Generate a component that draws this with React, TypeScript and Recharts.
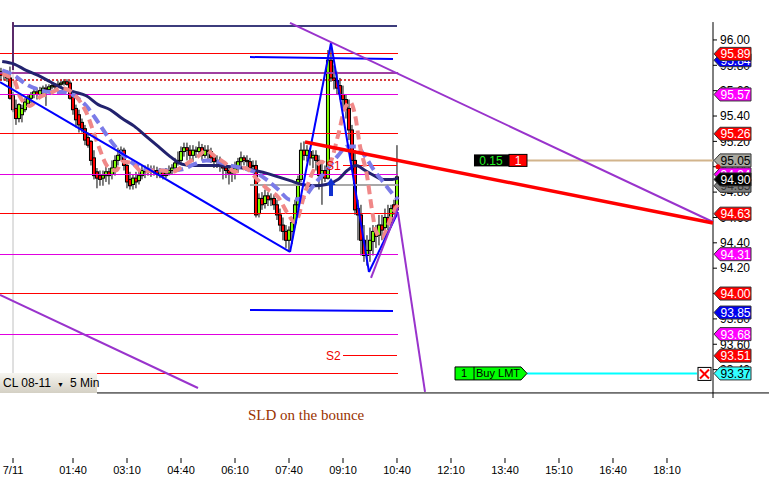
import React from 'react';
import {
    ComposedChart,
    XAxis,
    YAxis,
    Bar,
    Line,
    ReferenceLine,
    ReferenceDot
} from 'recharts';

const W = 769;
const H = 486;
// visible window: minutes after 7/11 00:00 and price range
const T_MIN = -21.67;
const T_MAX = 1166.67;
const P_MIN = 92.703;
const P_MAX = 96.315;
const LEVEL_END = 642;
const FONT = '"Liberation Sans", Arial, sans-serif';

// 5 min bars, first bar at 23:40 of the previous day
const opens = [
    95.75, 95.72, 95.75, 95.70, 95.56, 95.46, 95.38, 95.41, 95.45, 95.50,
    95.54, 95.57, 95.59, 95.57, 95.60, 95.62, 95.61, 95.63, 95.64, 95.64,
    95.65, 95.66, 95.67, 95.66, 95.55, 95.46, 95.41, 95.35, 95.30, 95.23,
    95.20, 95.07, 94.96, 94.93, 94.91, 94.93, 94.96, 94.94, 94.99, 95.05,
    95.09, 95.13, 95.01, 94.90, 94.86, 94.91, 94.89, 94.93, 94.97, 94.96,
    94.98, 94.96, 94.97, 94.94, 94.96, 94.93, 94.95, 94.97, 94.99, 95.03,
    95.05, 95.12, 95.15, 95.13, 95.09, 95.13, 95.12, 95.15, 95.09, 95.13,
    95.12, 95.07, 95.04, 95.05, 95.01, 94.99, 94.97, 94.95, 94.97, 94.99,
    95.04, 95.07, 95.05, 95.04, 95.01, 95.01, 94.63, 94.75, 94.71, 94.77,
    94.74, 94.75, 94.70, 94.62, 94.54, 94.49, 94.42, 94.49, 94.56, 94.70,
    94.90, 95.13, 95.09, 95.12, 95.07, 95.09, 95.05, 94.93, 94.97, 94.91,
    95.84, 95.70, 95.68, 95.64, 95.57, 95.53, 95.46, 95.29, 95.05, 94.67,
    94.62, 94.42, 94.30, 94.34, 94.41, 94.49, 94.46, 94.54, 94.52, 94.60,
    94.56, 94.70, 94.66
];
const highs = [
    95.78, 95.76, 95.76, 95.79, 95.59, 95.53, 95.50, 95.49, 95.54, 95.57,
    95.59, 95.62, 95.62, 95.63, 95.64, 95.65, 95.65, 95.66, 95.66, 95.68,
    95.68, 95.69, 95.69, 95.68, 95.57, 95.49, 95.45, 95.38, 95.33, 95.27,
    95.21, 95.13, 94.99, 94.97, 94.97, 95.01, 94.99, 95.05, 95.09, 95.15,
    95.16, 95.15, 95.05, 94.96, 94.94, 94.96, 94.97, 95.01, 95.01, 95.02,
    95.01, 95.01, 95.00, 94.99, 94.98, 94.99, 95.01, 95.02, 95.07, 95.12,
    95.16, 95.19, 95.19, 95.17, 95.17, 95.16, 95.20, 95.18, 95.17, 95.17,
    95.15, 95.10, 95.09, 95.08, 95.05, 95.03, 95.01, 95.02, 95.04, 95.07,
    95.12, 95.09, 95.09, 95.07, 95.05, 95.05, 94.79, 94.80, 94.82, 94.80,
    94.79, 94.78, 94.74, 94.67, 94.60, 94.54, 94.53, 94.60, 94.74, 94.93,
    95.19, 95.20, 95.17, 95.15, 95.13, 95.13, 95.09, 95.04, 95.01, 95.92,
    95.96, 95.80, 95.75, 95.70, 95.64, 95.57, 95.53, 95.33, 95.13, 94.74,
    94.70, 94.54, 94.46, 94.52, 94.54, 94.54, 94.62, 94.62, 94.67, 94.70,
    94.70, 94.74, 95.17
];
const lows = [
    95.68, 95.68, 95.67, 95.53, 95.43, 95.33, 95.35, 95.35, 95.43, 95.48,
    95.50, 95.54, 95.53, 95.55, 95.57, 95.48, 95.59, 95.61, 95.59, 95.62,
    95.63, 95.64, 95.64, 95.53, 95.41, 95.31, 95.27, 95.27, 95.17, 95.15,
    95.01, 94.90, 94.83, 94.85, 94.85, 94.88, 94.86, 94.90, 94.93, 95.01,
    95.05, 94.97, 94.83, 94.82, 94.82, 94.83, 94.86, 94.90, 94.91, 94.93,
    94.92, 94.93, 94.91, 94.91, 94.90, 94.91, 94.93, 94.94, 94.97, 95.01,
    95.02, 95.08, 95.05, 95.04, 95.04, 95.07, 95.08, 95.05, 95.07, 95.05,
    95.03, 94.99, 94.99, 94.96, 94.90, 94.91, 94.86, 94.88, 94.90, 94.95,
    94.99, 95.01, 95.00, 94.97, 94.96, 94.60, 94.60, 94.66, 94.67, 94.69,
    94.69, 94.66, 94.58, 94.49, 94.42, 94.36, 94.34, 94.39, 94.52, 94.66,
    94.88, 95.05, 95.04, 95.01, 94.99, 94.97, 94.82, 94.70, 94.88, 94.90,
    95.67, 95.61, 95.57, 95.53, 95.46, 95.38, 95.21, 95.01, 94.62, 94.42,
    94.30, 94.25, 94.22, 94.25, 94.30, 94.36, 94.38, 94.42, 94.46, 94.50,
    94.52, 94.62, 94.63
];
const closes = [
    95.72, 95.75, 95.70, 95.54, 95.45, 95.38, 95.49, 95.46, 95.51, 95.55,
    95.57, 95.59, 95.57, 95.60, 95.62, 95.61, 95.63, 95.64, 95.63, 95.65,
    95.66, 95.67, 95.65, 95.54, 95.45, 95.37, 95.33, 95.30, 95.21, 95.17,
    95.05, 94.93, 94.91, 94.90, 94.93, 94.96, 94.93, 94.99, 95.05, 95.09,
    95.13, 95.01, 94.88, 94.85, 94.91, 94.88, 94.93, 94.97, 94.96, 94.98,
    94.96, 94.97, 94.94, 94.96, 94.93, 94.95, 94.97, 94.99, 95.03, 95.05,
    95.12, 95.15, 95.13, 95.09, 95.13, 95.12, 95.15, 95.09, 95.13, 95.12,
    95.07, 95.04, 95.05, 95.01, 94.99, 94.97, 94.95, 94.97, 94.99, 95.04,
    95.07, 95.05, 95.04, 94.99, 95.01, 94.62, 94.75, 94.70, 94.77, 94.74,
    94.75, 94.70, 94.62, 94.54, 94.49, 94.42, 94.50, 94.56, 94.70, 94.90,
    95.13, 95.09, 95.13, 95.07, 95.09, 95.05, 94.93, 94.97, 94.91, 95.84,
    95.70, 95.68, 95.62, 95.57, 95.53, 95.45, 95.29, 95.05, 94.66, 94.62,
    94.42, 94.30, 94.34, 94.42, 94.49, 94.45, 94.54, 94.50, 94.60, 94.56,
    94.67, 94.66, 94.92
];

// moving averages (minute, price)
const slowMaT = [-18, 2, 22, 42, 62, 82, 102, 122, 142, 162, 182, 202, 222, 242, 262, 282, 302, 322, 342, 362, 382, 402, 422, 442, 462, 482, 502, 522, 542, 557, 572, 587, 602, 617, 632, 642];
const slowMa = [95.83, 95.81, 95.76, 95.72, 95.67, 95.62, 95.59, 95.56, 95.49, 95.45, 95.38, 95.32, 95.24, 95.16, 95.08, 95.02, 95.01, 95.01, 95.01, 95.00, 94.99, 94.97, 94.95, 94.92, 94.89, 94.86, 94.85, 94.86, 94.90, 94.97, 95.01, 94.97, 94.93, 94.90, 94.90, 94.91];
const midMa = [95.76, 95.72, 95.65, 95.61, 95.59, 95.59, 95.56, 95.48, 95.35, 95.21, 95.10, 95.02, 94.98, 94.97, 94.97, 94.98, 95.02, 95.05, 95.04, 95.01, 94.99, 94.96, 94.90, 94.82, 94.74, 94.75, 94.86, 94.97, 95.09, 95.16, 95.16, 95.08, 94.97, 94.88, 94.79, 94.74];
const fastMaT = [-18, 2, 12, 28, 45, 62, 82, 102, 122, 142, 158, 172, 182, 198, 215, 232, 248, 265, 282, 298, 308, 322, 337, 353, 370, 387, 407, 425, 442, 458, 470, 487, 503, 515, 525, 542, 553, 562, 570, 578, 590, 598, 605, 615, 625, 637, 642];
const fastMa = [95.73, 95.68, 95.55, 95.48, 95.55, 95.58, 95.62, 95.57, 95.43, 95.17, 95.00, 94.97, 95.04, 95.03, 94.96, 94.97, 94.97, 94.96, 95.00, 95.05, 95.08, 95.13, 95.08, 95.03, 94.96, 94.99, 94.90, 94.82, 94.76, 94.63, 94.56, 94.80, 94.99, 95.04, 95.01, 95.25, 95.46, 95.51, 95.41, 95.17, 94.93, 94.67, 94.49, 94.44, 94.54, 94.67, 94.70];

// pivot levels
const pivotLevels = [95.89, 95.26, 94.63, 94.00, 93.37];
const midLevels = [95.57, 94.94, 94.31, 93.68];

// price flags on the axis, drawn in this order
const flagPrices = [95.84, 95.89, 95.57, 95.26, 94.94, 95.05, 94.85, 94.90, 94.63, 94.31, 94.00, 93.85, 93.68, 93.51, 93.37];
const flagKinds = ['blue', 'red', 'mag', 'red', 'mag', 'gray', 'dgray', 'black', 'red', 'mag', 'red', 'blue', 'mag', 'red', 'cyan'];

const timeTicks = [0, 100, 190, 280, 370, 460, 550, 640, 730, 820, 910, 1000, 1090];
const timeLabels = ['7/11', '01:40', '03:10', '04:40', '06:10', '07:40', '09:10', '10:40', '12:10', '13:40', '15:10', '16:40', '18:10'];
const priceTicks = [93.4, 93.6, 93.8, 94.0, 94.2, 94.4, 94.6, 94.8, 95.0, 95.2, 95.4, 95.6, 95.8, 96.0];

// hand drawn studies (minute, price)
const blueZigzag = [[T_MIN, 95.668], [461.7, 94.328], [530, 95.976], [593.3, 94.17], [641.7, 94.643]];
const purpleUpper = [[461.7, 96.134], [T_MAX, 94.564]];
const purpleLower = [[T_MIN, 93.989], [308.3, 93.255]];
const purpleSteep = [[641.7, 94.635], [686.7, 93.224]];
const purpleShort = [[596.7, 94.123], [641.7, 94.675]];
const redTrend = [[486.7, 95.195], [T_MAX, 94.556]];
const blueUpperRange = [[395, 95.865], [633.3, 95.85]];
const blueLowerRange = [[395, 93.87], [633.3, 93.862]];

const candles = opens.map((o, i) => ({
    t: i * 5 - 20,
    open: o,
    high: highs[i],
    low: lows[i],
    close: closes[i]
}));
const toPts = (ts: number[], vs: number[]) => ts.map((t, i) => ({ t, v: vs[i] }));
const slowData = toPts(slowMaT, slowMa);
const midData = toPts(slowMaT, midMa);
const fastData = toPts(fastMaT, fastMa);

const FLAG_STYLE: Record<string, { bg: string; fg: string }> = {
    red: { bg: '#ff0000', fg: '#ffffff' },
    blue: { bg: '#0000ee', fg: '#ffffff' },
    mag: { bg: '#ff00ff', fg: '#ffffff' },
    gray: { bg: '#a8a8a0', fg: '#000000' },
    dgray: { bg: '#808080', fg: '#333333' },
    black: { bg: '#000000', fg: '#ffffff' },
    cyan: { bg: '#33ffff', fg: '#000000' }
};

const seg = (a: number[], b: number[]) => [{ x: a[0], y: a[1] }, { x: b[0], y: b[1] }];

const Candle = (props: any) => {
    const { x, width, payload } = props;
    let { y, height } = props;
    if (height < 0) {
        y = y + height;
        height = -height;
    }
    const { open, close, high, low } = payload;
    const cx = x + width / 2;
    const k = high > low ? height / (high - low) : 0;
    const yo = y + (high - open) * k;
    const yc = y + (high - close) * k;
    const top = Math.min(yo, yc);
    const h = Math.max(Math.abs(yo - yc), 1);
    const up = close >= open;
    return (
        <g>
            <line x1={cx} x2={cx} y1={y} y2={y + height} stroke="#000" strokeWidth={1} />
            <rect x={cx - 1.5} y={top} width={3} height={h} fill={up ? '#80ff00' : '#ff0000'} stroke="#000" strokeWidth={1} />
        </g>
    );
};

const flagShape = (price: number, kind: string) => (p: any) => {
    const { cx, cy } = p;
    const s = FLAG_STYLE[kind];
    const pts = `${cx + 1},${cy} ${cx + 7},${cy - 6.5} ${cx + 38},${cy - 6.5} ${cx + 38},${cy + 6.5} ${cx + 7},${cy + 6.5}`;
    return (
        <g>
            <polygon points={pts} fill={s.bg} stroke="#333" strokeWidth={1} />
            <text x={cx + 22.5} y={cy + 4.5} textAnchor="middle" fontSize={12} fill={s.fg} fontFamily={FONT}>
                {price.toFixed(2)}
            </text>
        </g>
    );
};

const orderTag = (p: any) => (
    <g fontFamily={FONT} fontSize={12}>
        <rect x={p.cx} y={p.cy - 6} width={35} height={12} fill="#000" />
        <text x={p.cx + 17} y={p.cy + 4.5} textAnchor="middle" fill="#22ee22">0.15</text>
        <rect x={p.cx + 35} y={p.cy - 6} width={18} height={12} fill="#ff0000" stroke="#000" />
        <text x={p.cx + 44} y={p.cy + 4.5} textAnchor="middle" fill="#fff">1</text>
    </g>
);

const buyTag = (p: any) => (
    <g fontFamily={FONT} fontSize={11}>
        <polygon
            points={`${p.cx},${p.cy - 6.5} ${p.cx + 66},${p.cy - 6.5} ${p.cx + 72},${p.cy} ${p.cx + 66},${p.cy + 6.5} ${p.cx},${p.cy + 6.5}`}
            fill="#00ff00"
            stroke="#000"
        />
        <line x1={p.cx + 19} x2={p.cx + 19} y1={p.cy - 6.5} y2={p.cy + 6.5} stroke="#000" />
        <text x={p.cx + 9} y={p.cy + 4} textAnchor="middle" fill="#000">1</text>
        <text x={p.cx + 21} y={p.cy + 4} fill="#000">Buy LMT</text>
    </g>
);

const cancelBox = (p: any) => (
    <g>
        <rect x={p.cx + 1} y={p.cy - 6} width={13} height={13} fill="#fff" stroke="#000" />
        <line x1={p.cx + 3} y1={p.cy - 4} x2={p.cx + 12} y2={p.cy + 5} stroke="#ff0000" strokeWidth={2} />
        <line x1={p.cx + 12} y1={p.cy - 4} x2={p.cx + 3} y2={p.cy + 5} stroke="#ff0000" strokeWidth={2} />
    </g>
);

const buyArrow = (p: any) => (
    <g>
        <rect x={p.cx - 2} y={p.cy - 3} width={4} height={12} fill="#1030d0" />
        <polygon points={`${p.cx - 4.5},${p.cy - 2} ${p.cx + 4.5},${p.cy - 2} ${p.cx},${p.cy - 9}`} fill="#1030d0" />
    </g>
);

const levelText = (label: string) => (p: any) => (
    <text x={p.cx} y={p.cy + 4.5} textAnchor="end" fontSize={12} fill="#ee0000" fontFamily={FONT}>
        {label}
    </text>
);

const redDot = (p: any) => <circle cx={p.cx + 5} cy={p.cy} r={2.5} fill="#ee0000" />;

export default function App() {
    return (
        <div style={{ position: 'absolute', left: 0, top: 0, width: W, height: H, background: '#fff', overflow: 'hidden' }}>
            <ComposedChart width={W} height={H} data={candles} margin={{ top: 0, right: 0, bottom: 0, left: 0 }}>
                <XAxis
                    dataKey="t"
                    type="number"
                    domain={[T_MIN, T_MAX]}
                    allowDataOverflow
                    ticks={timeTicks}
                    interval={0}
                    tickFormatter={(v: number) => timeLabels[timeTicks.indexOf(v)] ?? ''}
                    axisLine={false}
                    tickSize={5}
                    tickMargin={3}
                    tickLine={{ stroke: '#000' }}
                    tick={{ fontSize: 11, fill: '#000', fontFamily: FONT }}
                    height={28}
                />
                <YAxis
                    orientation="right"
                    type="number"
                    domain={[P_MIN, P_MAX]}
                    allowDataOverflow
                    ticks={priceTicks}
                    interval={0}
                    tickFormatter={(v: number) => v.toFixed(2)}
                    axisLine={false}
                    tickSize={4}
                    tickMargin={3}
                    tickLine={{ stroke: '#000' }}
                    tick={{ fontSize: 12, fill: '#000', fontFamily: FONT }}
                    width={56}
                />

                {/* frame */}
                <ReferenceLine segment={seg([T_MAX, 96.141], [T_MAX, 93.176])} stroke="#000" ifOverflow="visible" />
                <ReferenceLine segment={seg([140, 93.216], [1260, 93.216])} stroke="#000" ifOverflow="visible" />
                <ReferenceLine segment={seg([0, 95.763], [0, 93.37])} stroke="#c0c0c0" ifOverflow="visible" />

                {/* pivots and levels */}
                {pivotLevels.map(p => (
                    <ReferenceLine key={'pv' + p} segment={seg([T_MIN, p], [LEVEL_END, p])} stroke="#ff0000" shapeRendering="crispEdges" ifOverflow="visible" />
                ))}
                {midLevels.map(p => (
                    <ReferenceLine key={'md' + p} segment={seg([T_MIN, p], [LEVEL_END, p])} stroke="#e000e0" shapeRendering="crispEdges" ifOverflow="visible" />
                ))}
                <ReferenceLine segment={seg([0, 96.11], [640, 96.11])} stroke="#3c3c7c" strokeWidth={2} ifOverflow="visible" />
                <ReferenceLine segment={seg([0, 96.141], [0, 95.763])} stroke="#5a2a6a" strokeWidth={2} ifOverflow="visible" />
                <ReferenceLine segment={seg([T_MIN, 95.739], [LEVEL_END, 95.739])} stroke="#a040a0" strokeWidth={2} ifOverflow="visible" />
                <ReferenceLine segment={seg([T_MIN, 95.684], [LEVEL_END, 95.684])} stroke="#cc0000" strokeWidth={1.5} strokeDasharray="2 2" ifOverflow="visible" />
                <ReferenceLine segment={seg([395, 94.856], [LEVEL_END, 94.856])} stroke="#a8a8a8" strokeWidth={2} ifOverflow="visible" />
                <ReferenceLine segment={seg([550, 95.006], [640, 95.006])} stroke="#ff0000" shapeRendering="crispEdges" ifOverflow="visible" />
                <ReferenceLine segment={seg([550, 93.51], [640, 93.51])} stroke="#ff0000" shapeRendering="crispEdges" ifOverflow="visible" />
                <ReferenceDot x={546} y={95.006} r={0} shape={levelText('S1')} ifOverflow="visible" />
                <ReferenceDot x={546} y={93.51} r={0} shape={levelText('S2')} ifOverflow="visible" />

                {/* order lines */}
                <ReferenceLine segment={seg([856.7, 95.05], [T_MAX, 95.05])} stroke="#d2b48c" strokeWidth={2} ifOverflow="visible" />
                <ReferenceLine segment={seg([856.7, 93.37], [1140, 93.37])} stroke="#00ffff" strokeWidth={2} ifOverflow="visible" />

                <Bar dataKey={(d: any) => [d.low, d.high]} shape={Candle} barSize={3} isAnimationActive={false} />

                <Line data={slowData} dataKey="v" type="monotone" stroke="#22226e" strokeWidth={3} dot={false} activeDot={false} isAnimationActive={false} />
                <Line data={midData} dataKey="v" type="monotone" stroke="#7b7be8" strokeWidth={4} strokeDasharray="10 5" dot={false} activeDot={false} isAnimationActive={false} />
                <Line data={fastData} dataKey="v" type="monotone" stroke="#f08888" strokeWidth={4} strokeDasharray="9 5" dot={false} activeDot={false} isAnimationActive={false} />

                {/* drawings */}
                {blueZigzag.slice(1).map((pt, i) => (
                    <ReferenceLine key={'zz' + i} segment={seg(blueZigzag[i], pt)} stroke="#0000ff" strokeWidth={2} ifOverflow="visible" />
                ))}
                <ReferenceLine segment={seg(blueUpperRange[0], blueUpperRange[1])} stroke="#0000ff" strokeWidth={2} ifOverflow="visible" />
                <ReferenceLine segment={seg(blueLowerRange[0], blueLowerRange[1])} stroke="#0000ff" strokeWidth={2} ifOverflow="visible" />
                <ReferenceLine segment={seg(purpleUpper[0], purpleUpper[1])} stroke="#9933cc" strokeWidth={2} ifOverflow="visible" />
                <ReferenceLine segment={seg(purpleLower[0], purpleLower[1])} stroke="#9933cc" strokeWidth={2} ifOverflow="visible" />
                <ReferenceLine segment={seg(purpleSteep[0], purpleSteep[1])} stroke="#9933cc" strokeWidth={2} ifOverflow="visible" />
                <ReferenceLine segment={seg(purpleShort[0], purpleShort[1])} stroke="#9933cc" strokeWidth={2} ifOverflow="visible" />
                <ReferenceLine segment={seg(redTrend[0], redTrend[1])} stroke="#ff0000" strokeWidth={3.5} ifOverflow="visible" />

                <ReferenceDot x={530} y={94.84} r={0} shape={buyArrow} ifOverflow="visible" />
                <ReferenceDot x={768.3} y={95.05} r={0} shape={orderTag} ifOverflow="visible" />
                <ReferenceDot x={736.7} y={93.37} r={0} shape={buyTag} ifOverflow="visible" />
                <ReferenceDot x={1140} y={93.37} r={0} shape={cancelBox} ifOverflow="visible" />
            </ComposedChart>

            {/* price flags sit above the axis labels, so they get their own layer with the same scales */}
            <div style={{ position: 'absolute', left: 0, top: 0, pointerEvents: 'none' }}>
                <ComposedChart width={W} height={H} data={candles} margin={{ top: 0, right: 0, bottom: 0, left: 0 }}>
                    <XAxis dataKey="t" type="number" domain={[T_MIN, T_MAX]} allowDataOverflow axisLine={false} tickLine={false} tick={false} height={28} />
                    <YAxis orientation="right" type="number" domain={[P_MIN, P_MAX]} allowDataOverflow axisLine={false} tickLine={false} tick={false} width={56} />
                    {flagPrices.map((p, i) => (
                        <ReferenceDot key={'fl' + i} x={T_MAX} y={p} r={0} shape={flagShape(p, flagKinds[i])} ifOverflow="visible" />
                    ))}
                    <ReferenceDot x={T_MAX} y={95.0} r={0} shape={redDot} ifOverflow="visible" />
                </ComposedChart>
            </div>

            <div
                style={{
                    position: 'absolute',
                    left: 0,
                    top: 373,
                    width: 97,
                    height: 20,
                    background: 'linear-gradient(#f6f5f0, #d4d0c4)',
                    fontFamily: FONT,
                    fontSize: 12,
                    lineHeight: '20px',
                    color: '#000',
                    whiteSpace: 'nowrap'
                }}
            >
                <span style={{ marginLeft: 3 }}>CL 08-11</span>
                <span style={{ marginLeft: 6, fontSize: 7 }}>▼</span>
                <span style={{ marginLeft: 6 }}>5 Min</span>
            </div>
            <div
                style={{
                    position: 'absolute',
                    left: 248,
                    top: 407,
                    fontFamily: '"Liberation Serif", "Times New Roman", serif',
                    fontSize: 15,
                    color: '#993300',
                    whiteSpace: 'nowrap'
                }}
            >
                SLD on the bounce
            </div>
        </div>
    );
}
